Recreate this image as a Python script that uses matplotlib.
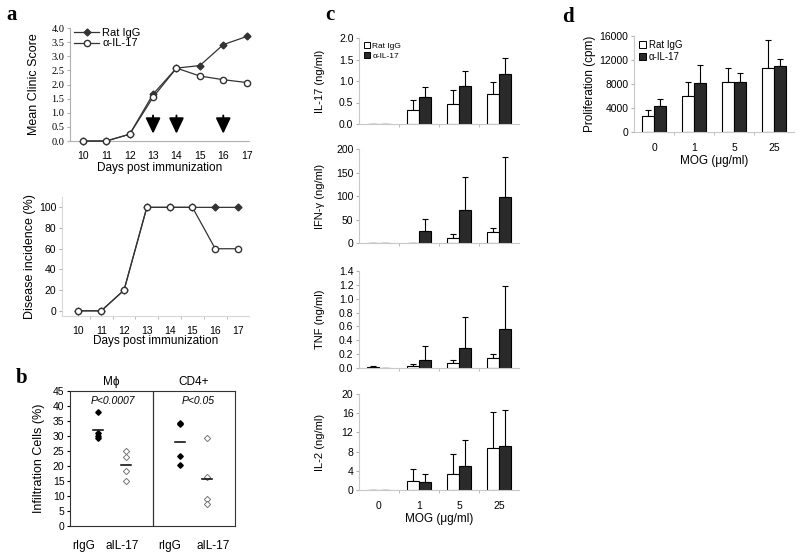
import matplotlib
matplotlib.use("Agg")
import matplotlib.pyplot as plt
from matplotlib.patches import Patch
import numpy as np

plt.rcParams['font.family'] = ['Liberation Sans', 'DejaVu Sans']

# ---- panel a data ----
days = [10, 11, 12, 13, 14, 15, 16, 17]
score_rat = [0.0, 0.0, 0.24, 1.66, 2.58, 2.67, 3.41, 3.70]
score_anti = [0.0, 0.0, 0.24, 1.55, 2.58, 2.30, 2.17, 2.07]
treat_days = [13, 14, 16]
inc_rat = [0, 0, 20, 100, 100, 100, 100, 100]
inc_anti = [0, 0, 20, 100, 100, 100, 60, 60]

# ---- panel b data ----
mph_rigg = [38, 31, 30, 29.5]
mph_ail17 = [25, 23, 18.5, 15]
cd4_rigg = [34.5, 34, 23.5, 20.5]
cd4_ail17 = [29.5, 16.5, 9, 7.5]
b_labels = ['rIgG', 'aIL-17', 'rIgG', 'aIL-17']

# ---- panel c / d data ----
mog = ['0', '1', '5', '25']
il17_rat = [0.01, 0.32, 0.46, 0.69]
il17_rat_err = [0.0, 0.24, 0.32, 0.28]
il17_anti = [0.01, 0.62, 0.89, 1.16]
il17_anti_err = [0.0, 0.23, 0.34, 0.38]
ifn_rat = [0.5, 1, 11, 24]
ifn_rat_err = [0, 0, 8, 8]
ifn_anti = [1, 26, 71, 97]
ifn_anti_err = [0, 26, 70, 85]
tnf_rat = [0.02, 0.03, 0.07, 0.15]
tnf_rat_err = [0.01, 0.03, 0.05, 0.05]
tnf_anti = [0.005, 0.12, 0.29, 0.56]
tnf_anti_err = [0.0, 0.20, 0.45, 0.63]
il2_rat = [0.1, 1.8, 3.4, 8.7]
il2_rat_err = [0, 2.6, 4.0, 7.6]
il2_anti = [0.1, 1.7, 5.0, 9.1]
il2_anti_err = [0, 1.7, 5.4, 7.6]
prolif_rat = [2700, 6000, 8350, 10600]
prolif_rat_err = [900, 2350, 2250, 4700]
prolif_anti = [4400, 8200, 8350, 11000]
prolif_anti_err = [1050, 2900, 1450, 1100]

GRAY = '#b0b0b0'
DARK = '#2a2a2a'
W, H = 800.0, 553.0


def rect(l, r, t, b):
    return [l / W, 1 - b / H, (r - l) / W, (b - t) / H]


fig = plt.figure(figsize=(8, 5.53), dpi=100)

# ---------- a (top) ----------
ax = fig.add_axes(rect(70, 249, 28, 141))
ax.plot(days, score_rat, '-D', color='#333333', lw=0.9, ms=3.5, mfc='#333333', mec='#333333',
        label='Rat IgG', clip_on=False, zorder=3)
ax.plot(days, score_anti, '-o', color='#333333', lw=0.9, ms=4.5, mfc='white', mec='#333333',
        label='α-IL-17', clip_on=False, zorder=4)
for d in treat_days:
    ax.annotate('', xy=(d, 0.16), xytext=(d, 1.0),
                arrowprops=dict(arrowstyle='-|>,head_width=0.45,head_length=0.95',
                                color='black', lw=1.4))
ax.set_xlim(9.45, 17.1)
ax.set_ylim(0, 4)
ax.set_yticks(np.arange(0, 4.01, 0.5))
ax.set_yticklabels(['%.1f' % v for v in np.arange(0, 4.01, 0.5)], family='Liberation Serif', fontsize=7.5)
ax.set_xticks(days)
ax.tick_params(axis='x', labelsize=7.5, length=0, pad=7)
ax.tick_params(axis='y', length=2, color=GRAY, pad=2)
for s in ['top', 'right']:
    ax.spines[s].set_visible(False)
for s in ['left', 'bottom']:
    ax.spines[s].set_color(GRAY)
    ax.spines[s].set_linewidth(0.8)
ax.set_ylabel('Mean Clinic Score', fontsize=9)
ax.yaxis.set_label_coords(-0.17, 0.5)
ax.set_xlabel('Days post immunization', fontsize=8.5)
ax.xaxis.set_label_coords(0.5, -0.19)
ax.legend(loc='upper left', bbox_to_anchor=(0.0, 1.04), frameon=False, fontsize=8,
          handlelength=2.2, labelspacing=0.05, borderaxespad=0, handletextpad=0.3)

# ---------- a (bottom) ----------
ax = fig.add_axes(rect(62, 249, 197, 316))
ax.plot(days, inc_rat, '-D', color='#333333', lw=0.9, ms=3.5, mfc='#333333', mec='#333333',
        clip_on=False, zorder=3)
ax.plot(days, inc_anti, '-o', color='#333333', lw=0.9, ms=4.5, mfc='white', mec='#333333',
        clip_on=False, zorder=4)
ax.set_xlim(9.28, 17.48)
ax.set_ylim(-5, 110)
ax.set_yticks([0, 20, 40, 60, 80, 100])
ax.set_xticks(days)
ax.set_xticks(np.arange(10.5, 17, 1), minor=True)
ax.tick_params(axis='x', which='major', length=0, labelsize=7.5, pad=7)
ax.tick_params(axis='x', which='minor', length=2.5, color=GRAY)
ax.tick_params(axis='y', labelsize=7.5, length=2, color=GRAY, pad=2)
for s in ['top', 'right']:
    ax.spines[s].set_visible(False)
for s in ['left', 'bottom']:
    ax.spines[s].set_color('#d8d8d8')
    ax.spines[s].set_linewidth(0.8)
ax.set_ylabel('Disease incidence (%)', fontsize=9)
ax.yaxis.set_label_coords(-0.14, 0.5)
ax.set_xlabel('Days post immunization', fontsize=8.5)
ax.xaxis.set_label_coords(0.5, -0.16)

# ---------- b ----------
ax = fig.add_axes(rect(70, 235, 391, 526))
groups = [(mph_rigg, 0.68, True), (mph_ail17, 1.36, False),
          (cd4_rigg, 2.67, True), (cd4_ail17, 3.32, False)]
for vals, xp, filled in groups:
    xs = [xp] * len(vals)
    if filled:
        ax.plot(xs, vals, 'D', ms=2.8, mfc='black', mec='black', ls='none')
    else:
        ax.plot(xs, vals, 'D', ms=3.2, mfc='white', mec='#777777', mew=0.7, ls='none')
    ax.plot([xp - 0.12, xp + 0.12], [np.mean(vals)] * 2, color='black', lw=1.1)
ax.axvline(2, color='#333333', lw=0.9)
ax.set_xlim(0, 4)
ax.set_ylim(0, 45)
ax.set_yticks(range(0, 46, 5))
ax.set_xticks([0.32, 1.26, 2.42, 3.47])
ax.set_xticklabels(b_labels, fontsize=8.5)
ax.tick_params(axis='x', length=0, pad=10)
ax.tick_params(axis='y', labelsize=7.5, length=2, pad=2)
for s in ax.spines.values():
    s.set_linewidth(0.8)
    s.set_color('#333333')
ax.set_ylabel('Infiltration Cells (%)', fontsize=9)
ax.yaxis.set_label_coords(-0.15, 0.5)
ax.text(1, 46.0, 'Mϕ', ha='center', va='bottom', fontsize=8.5)
ax.text(3, 46.0, 'CD4+', ha='center', va='bottom', fontsize=8.5)
ax.text(1.05, 41.5, 'P<0.0007', ha='center', va='center', fontsize=7.5, style='italic')
ax.text(3.1, 41.5, 'P<0.05', ha='center', va='center', fontsize=7.5, style='italic')


# ---------- c & d bars ----------
def bars(ax, rat, rat_err, anti, anti_err):
    x = np.arange(len(mog))
    bw = 0.3
    ax.bar(x - bw / 2, rat, bw, color='white', edgecolor='black', lw=0.8, zorder=2)
    ax.bar(x + bw / 2, anti, bw, color=DARK, edgecolor='black', lw=0.8, zorder=2)
    ax.errorbar(x - bw / 2, rat, yerr=[np.zeros(len(rat)), rat_err], fmt='none',
                ecolor='black', elinewidth=0.8, capsize=2.2, capthick=0.8, zorder=1)
    ax.errorbar(x + bw / 2, anti, yerr=[np.zeros(len(anti)), anti_err], fmt='none',
                ecolor='black', elinewidth=0.8, capsize=2.2, capthick=0.8, zorder=1)
    ax.set_xlim(-0.5, len(mog) - 0.5)
    ax.set_xticks(x)
    ax.set_xticks(np.arange(0.5, len(mog) - 0.5, 1), minor=True)
    ax.tick_params(axis='x', which='major', length=0)
    ax.tick_params(axis='x', which='minor', length=2.5, color=GRAY)
    ax.tick_params(axis='y', labelsize=7.5, length=2, color=GRAY, pad=2)
    for s in ['top', 'right']:
        ax.spines[s].set_visible(False)
    for s in ['left', 'bottom']:
        ax.spines[s].set_color('#c8c8c8')
        ax.spines[s].set_linewidth(0.8)


def legend(ax, fs, y):
    h = [Patch(facecolor='white', edgecolor='black', lw=0.7, label='Rat IgG'),
         Patch(facecolor=DARK, edgecolor='black', lw=0.7, label='α-IL-17')]
    ax.legend(handles=h, loc='upper left', bbox_to_anchor=(0.03, y), frameon=False,
              fontsize=fs, handlelength=0.7, handleheight=0.7, handletextpad=0.3,
              labelspacing=0.25, borderaxespad=0, borderpad=0)


cpanels = [
    (38, 124, il17_rat, il17_rat_err, il17_anti, il17_anti_err, 2.0, 0.5, '%.1f', 'IL-17 (ng/ml)'),
    (149, 243, ifn_rat, ifn_rat_err, ifn_anti, ifn_anti_err, 200, 50, '%d', 'IFN-γ (ng/ml)'),
    (271, 368, tnf_rat, tnf_rat_err, tnf_anti, tnf_anti_err, 1.4, 0.2, '%.1f', 'TNF (ng/ml)'),
    (394, 490, il2_rat, il2_rat_err, il2_anti, il2_anti_err, 20, 4, '%d', 'IL-2 (ng/ml)'),
]
for i, (t, b, r, re, a, ae, top, step, fmt, lab) in enumerate(cpanels):
    ax = fig.add_axes(rect(359, 519, t, b))
    bars(ax, r, re, a, ae)
    ax.set_ylim(0, top)
    ticks = np.arange(0, top + step / 2, step)
    ax.set_yticks(ticks)
    ax.set_yticklabels([fmt % v for v in ticks])
    ax.set_ylabel(lab, fontsize=8)
    ax.yaxis.set_label_coords(-0.21, 0.5)
    if i == 3:
        ax.set_xticklabels(mog, fontsize=7.5)
        ax.tick_params(axis='x', which='major', pad=8)
        ax.set_xlabel('MOG (μg/ml)', fontsize=8.5)
        ax.xaxis.set_label_coords(0.5, -0.24)
    else:
        ax.set_xticklabels([])
    if i == 0:
        legend(ax, 6, 0.95)

ax = fig.add_axes(rect(634, 794, 36, 132))
bars(ax, prolif_rat, prolif_rat_err, prolif_anti, prolif_anti_err)
ax.set_ylim(0, 16000)
ax.set_yticks(range(0, 16001, 4000))
ax.set_xticklabels(mog, fontsize=7.5)
ax.tick_params(axis='x', which='major', pad=8)
ax.set_xlabel('MOG (μg/ml)', fontsize=8.5)
ax.xaxis.set_label_coords(0.5, -0.24)
ax.set_ylabel('Proliferation (cpm)', fontsize=8.5)
ax.yaxis.set_label_coords(-0.24, 0.5)
legend(ax, 7, 0.96)

# panel letters
for lt, px, py in [('a', 12, 15), ('b', 22, 378), ('c', 330, 15), ('d', 568, 17)]:
    fig.text(px / W, 1 - py / H, lt, fontsize=15, fontweight='bold', family='Liberation Serif',
             ha='center', va='center')

fig.savefig('out.png', dpi=100)
